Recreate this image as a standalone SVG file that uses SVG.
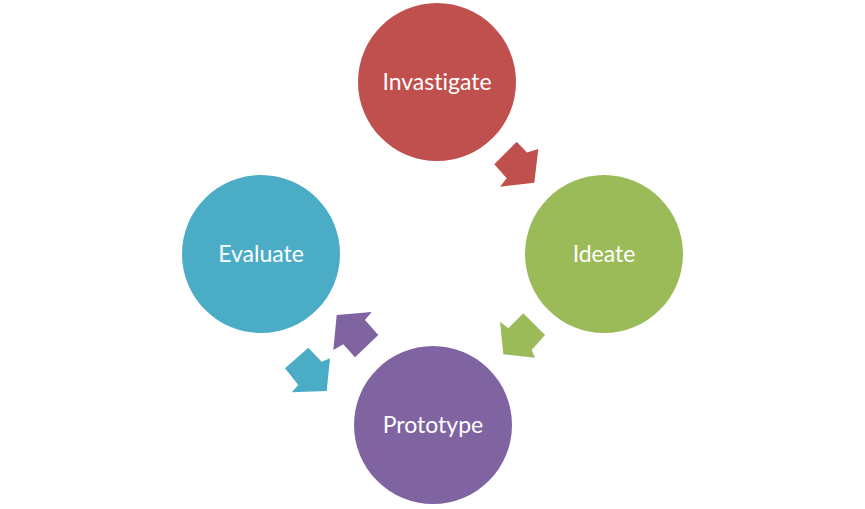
<svg xmlns="http://www.w3.org/2000/svg" width="865" height="509" viewBox="0 0 865 509">
  <style>
    .lbl { font-family: Lato, "Open Sans", "Liberation Sans", sans-serif; font-size: 23px; fill: #ffffff; text-anchor: middle; font-variant-ligatures: none; }
  </style>
  <rect width="865" height="509" fill="#ffffff"/>
  <g id="connectors">
    <polygon fill="#C0504D" points="516.7,141.7 527,152.5 538.3,149 534.3,182.7 500,186.7 506.7,178.3 494.3,164.3"/>
    <polygon fill="#9BBB59" points="523.3,313.3 545,335 531.7,350 535,357.7 503.3,354.3 500,321.7 508.3,328.3"/>
    <polygon fill="#8064A2" points="336.7,315 371.7,312 365,320 378.3,335 355,357.3 343.3,344.3 333.3,350"/>
    <polygon fill="#4BACC6" points="308.3,347.7 321.7,361.7 330,358.3 326.7,391 291.7,392.3 298.3,385 285,368.3"/>
  </g>
  <g id="investigate">
    <circle cx="437" cy="82" r="79" fill="#C0504D"/>
    <text class="lbl" x="437" y="90">Invastigate</text>
  </g>
  <g id="ideate">
    <circle cx="604" cy="254" r="79" fill="#9BBB59"/>
    <text class="lbl" x="604" y="262">Ideate</text>
  </g>
  <g id="prototype">
    <circle cx="433" cy="425" r="79" fill="#8064A2"/>
    <text class="lbl" x="433" y="433">Prototype</text>
  </g>
  <g id="evaluate">
    <circle cx="261" cy="254" r="79" fill="#4BACC6"/>
    <text class="lbl" x="261" y="262">Evaluate</text>
  </g>
</svg>
